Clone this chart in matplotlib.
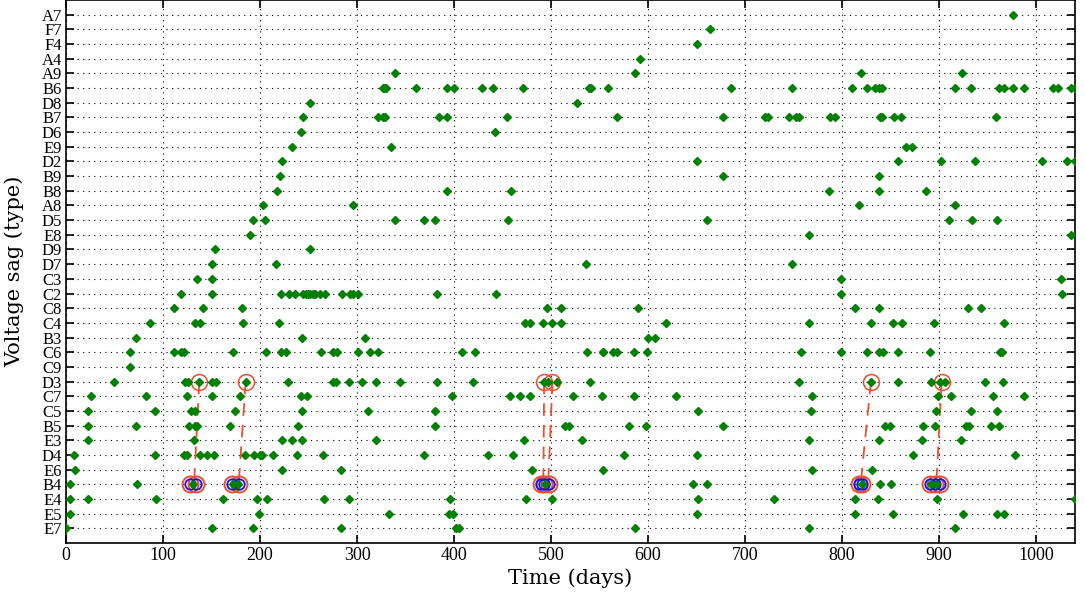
import matplotlib
matplotlib.use("Agg")
import matplotlib.pyplot as plt

# sag types, bottom row first
sag_types = ["E7", "E5", "E4", "B4", "E6", "D4", "E3", "B5", "C5", "C7",
             "D3", "C9", "C6", "B3", "C4", "C8", "C2", "C3", "D7", "D9",
             "E8", "D5", "A8", "B8", "B9", "D2", "E9", "D6", "B7", "D8",
             "B6", "A9", "A4", "F4", "F7", "A7"]

# day of every recorded sag, one list per type (same order as sag_types)
sag_days = [
    [0, 150.5, 192.4, 283, 402, 405.5, 586, 766, 916],
    [4, 199.3, 332.6, 395, 398.6, 650, 813, 852.7, 924.8, 960, 967],
    [4, 23, 92.5, 162, 197, 207, 266, 292, 396, 474, 501, 651, 730, 813,
     836.7, 897.6, 1040],
    [4, 73, 131, 172.5, 177.6, 494, 646, 660.5, 820, 839.5, 850, 892, 897],
    [9, 223, 283, 480, 553, 769, 831],
    [8.5, 91.7, 121.6, 124.4, 138, 145, 152.6, 185, 193.8, 200, 202.4, 213.7,
     237.8, 264.6, 369, 435.4, 460.5, 575.3, 650.2, 873, 978],
    [22.3, 132.3, 222.3, 233.3, 243.6, 319.3, 472.5, 531.6, 766, 837.7, 882,
     923],
    [22.3, 72.2, 126.5, 133, 135.4, 169, 238.8, 380.8, 514.4, 518.9, 580.8,
     597.6, 677, 844.3, 848.9, 883.7, 895.9, 927.2, 930.7, 953.3, 962],
    [22.3, 91.7, 128.5, 133, 174.2, 243.6, 311.7, 380.8, 651.9, 767.7, 896.6,
     932.8, 959.6],
    [25.4, 83, 124.4, 150, 179, 242, 248, 397.6, 457.7, 468, 478.4, 522.4,
     552.6, 585.6, 628.9, 769.4, 898.6, 912.6, 955, 987],
    [49.5, 122.7, 125.8, 137.4, 150.2, 154.6, 185.2, 229, 275, 278.4, 292,
     305.5, 319.3, 344.3, 382, 420, 492.8, 497.2, 505.9, 540.2, 756, 829.7,
     857.5, 891.8, 901, 906, 947.5, 966.2],
    [66],
    [66, 111, 119, 121.6, 172.5, 206, 222, 226.8, 263, 275, 279, 301.3, 313.4,
     322, 408, 421.3, 537.4, 553, 554, 564.3, 567.7, 585.6, 599.3, 757.4,
     798.4, 825.6, 837.7, 841.9, 857.5, 890.6, 963, 965],
    [72.5, 243.6, 308.6, 600.3, 607.2],
    [86.6, 133, 138, 182, 219.6, 473, 478.4, 492, 501.4, 510, 618.6, 766.3,
     829.7, 852.7, 861.7, 894.9, 967.3],
    [111.3, 141.6, 181, 495.5, 510, 590, 813.3, 838, 929.3, 943.3],
    [119, 150.5, 222, 229.5, 236.5, 244.5, 247, 249.5, 252, 255, 257, 262,
     267, 284.5, 293, 296, 301, 382, 443, 798.4, 1026.8],
    [135.4, 150.5, 798.4, 1025.5],
    [150.5, 216.8, 536, 748.5],
    [153.6, 251.5],
    [189.7, 766, 1036],
    [192.4, 204.8, 338.8, 369, 380.8, 456, 660.8, 910.5, 934.2, 959.3],
    [203.4, 296.2, 817.8, 915.8],
    [217, 392.5, 459, 786.2, 838, 886.8],
    [221, 677.3, 838],
    [222.7, 650.2, 857.5, 901.8, 937, 1005.6, 1031.7, 1040],
    [233, 335.4, 865.3, 871.5],
    [242.6, 442.6],
    [244, 322, 327, 329, 384, 392.5, 454.6, 567.7, 677.3, 720.6, 724, 745,
     752.6, 756, 787.2, 793, 839.5, 840.8, 853, 860.3, 958.3],
    [251.5, 527.1],
    [326.5, 328, 330, 360.8, 392.5, 400.3, 428.9, 440.5, 470.8, 539.5, 541,
     558.8, 685.2, 748.5, 810.2, 825.6, 834.2, 837.7, 841.2, 916, 932.8, 962,
     966.6, 976, 987.1, 1017, 1022.3, 1036, 1040],
    [339, 587, 819.6, 923.4],
    [591.4],
    [650.2],
    [664],
    [976.3],
]

# highlighted D3 sags and the B4 sags they are linked to
d3_marked = [137.4, 185.2, 492.8, 501.4, 829.7, 902.5]
b4_marked = [128, 134, 171, 178, 490, 493, 498, 817, 820, 891, 896, 901]
link_from = [137.4, 185.2, 492.8, 501.4, 829.7, 902.5]
link_to = [132, 178, 492, 497, 819, 897]

plt.rcParams['font.family'] = ['Liberation Serif', 'DejaVu Serif']

fig = plt.figure(figsize=(10.85, 6.05), dpi=100)
ax = fig.add_axes([0.0608, 0.1025, 0.93, 0.8975])

red = '#e8502f'
y_d3 = sag_types.index("D3")
y_b4 = sag_types.index("B4")

# dashed links
for x0, x1 in zip(link_from, link_to):
    ax.plot([x0, x1], [y_d3, y_b4], color=red, lw=1.3, ls=(0, (7, 5)),
            zorder=3)

# circles
ax.plot(d3_marked, [y_d3] * len(d3_marked), 'o', mfc='none', mec=red,
        ms=11.5, mew=1.1, zorder=4)
ax.plot(b4_marked, [y_b4] * len(b4_marked), 'o', mfc='none', mec=red,
        ms=11.5, mew=1.4, zorder=4)
ax.plot(b4_marked, [y_b4] * len(b4_marked), 'o', mfc='none', mec='#1010ff',
        ms=7.5, mew=1.3, zorder=5)

# all sags
for i, days in enumerate(sag_days):
    ax.plot(days, [i] * len(days), 'D', color='#008000', ms=3.9,
            mec='#008000', ls='none', zorder=6)

ax.set_xlim(0, 1040)
ax.set_ylim(-1, 36)
ax.set_xticks(range(0, 1001, 100))
ax.set_yticks(range(len(sag_types)))
ax.set_yticklabels(sag_types)
ax.grid(True, color='black', ls=(0, (1, 4)), lw=0.8)
ax.set_axisbelow(True)
ax.tick_params(direction='in', length=6, width=1.2, top=True, right=True,
               labelsize=12, pad=3)
ax.tick_params(axis='x', labelsize=13)
for s in ax.spines.values():
    s.set_linewidth(1.2)

ax.set_xlabel("Time (days)", fontsize=15, family=['DejaVu Serif'],
              labelpad=3)
ax.set_ylabel("Voltage sag (type)", fontsize=15, family=['DejaVu Serif'])
ax.yaxis.set_label_coords(-0.041, 0.5)

fig.savefig("out.png", dpi=100)
